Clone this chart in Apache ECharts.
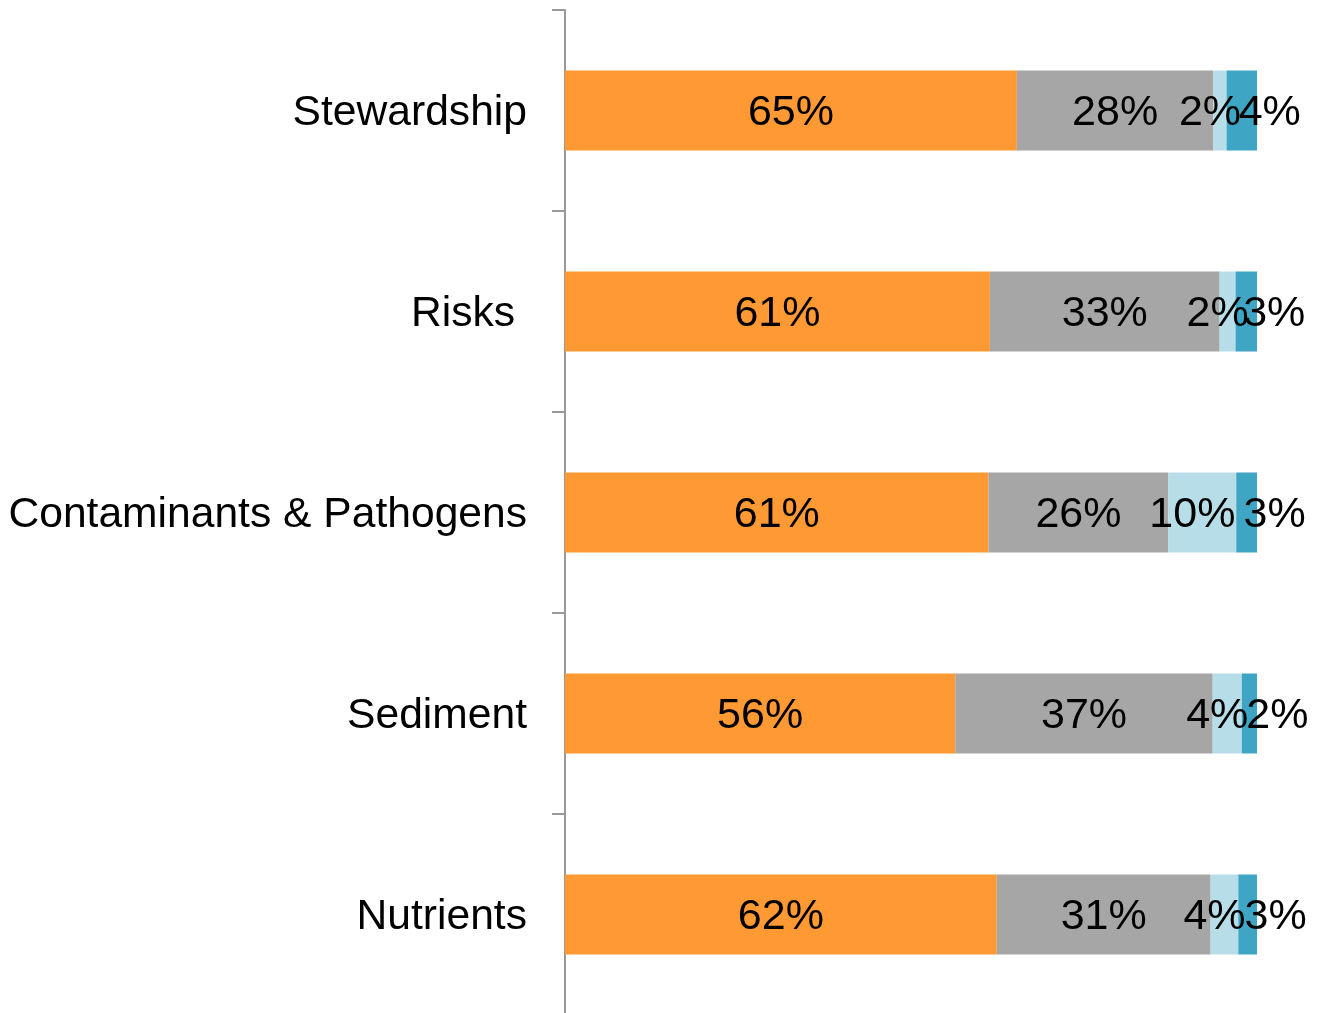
<!DOCTYPE html>
<html>
<head>
<meta charset="utf-8">
<script src="https://cdn.jsdelivr.net/npm/echarts@6/dist/echarts.min.js"></script>
<style>
  html, body { margin: 0; padding: 0; background: #fff; overflow: hidden; }
  #chart { width: 1323px; height: 1015px; }
</style>
</head>
<body>
<div id="chart"></div>
<script>
// categories, top to bottom
let categories = ['Stewardship', 'Risks ', 'Contaminants & Pathogens', 'Sediment', 'Nutrients'];
// share of answers per category (%)
let seriesNames = ['Series 1', 'Series 2', 'Series 3', 'Series 4'];
let orangeVals = [65.3, 61.4, 61.2, 56.4, 62.4];
let grayVals = [28.4, 33.2, 26.0, 37.2, 30.9];
let lightVals = [1.9, 2.3, 9.8, 4.2, 4.0];
let darkVals = [4.4, 3.1, 3.0, 2.2, 2.7];

let colors = ['#FF9933', '#A6A6A6', '#B7DEE8', '#3FA5C5'];
let labelOffsets = [[0, 3], [0, 3], [-10, 3], [28, 3]];
let allVals = [orangeVals, grayVals, lightVals, darkVals];

let myChart = echarts.init(document.getElementById('chart'));

let series = [];
for (let i = 0; i < allVals.length; i++) {
    series.push({
        name: seriesNames[i],
        type: 'bar',
        stack: 'total',
        barWidth: 80,
        itemStyle: { color: colors[i] },
        label: {
            show: true,
            position: 'inside',
            offset: labelOffsets[i],
            color: '#000',
            fontFamily: 'Liberation Sans, Arial, sans-serif',
            fontSize: 43,
            formatter: function (p) {
                return Math.round(p.value) + '%';
            }
        },
        data: allVals[i]
    });
}

let option = {
    animation: false,
    grid: {
        left: 565,
        right: 66,
        top: 10,
        bottom: 0
    },
    xAxis: {
        type: 'value',
        min: 0,
        max: 100,
        show: false
    },
    yAxis: {
        type: 'category',
        inverse: true,
        data: categories,
        axisLine: { show: true, lineStyle: { color: '#999', width: 2 } },
        axisTick: { show: true, length: 13, lineStyle: { color: '#999', width: 2 } },
        axisLabel: {
            margin: 38,
            formatter: function (v) {
                return '{t|' + v + '}';
            },
            rich: {
                t: {
                    color: '#000',
                    padding: [6, 0, 0, 0],
                    fontFamily: 'Liberation Sans, Arial, sans-serif',
                    fontSize: 42.6
                }
            }
        }
    },
    series: series
};

myChart.setOption(option);
</script>
</body>
</html>
